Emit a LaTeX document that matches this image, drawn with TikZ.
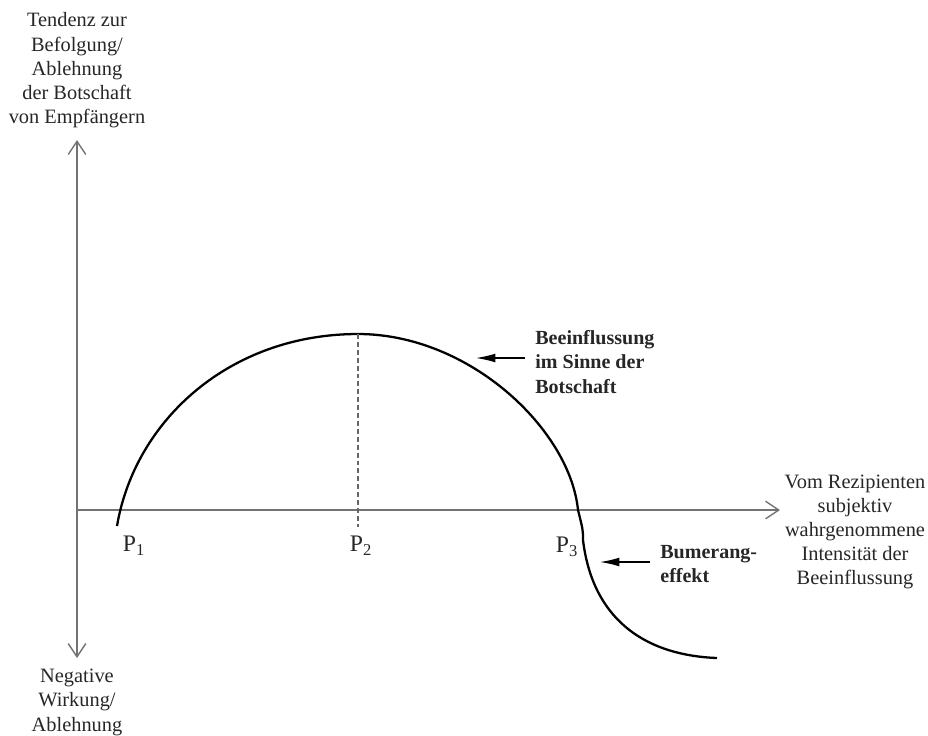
\documentclass[tikz,border=0pt]{standalone}
\usepackage{fontspec}
\setmainfont{Liberation Serif}
\usetikzlibrary{arrows.meta,positioning}

\begin{document}
\begin{tikzpicture}[x=0.02cm,y=-0.02cm,
  axis/.style={draw=black!55,line width=0.8pt,-{Straight Barb[length=7.5pt,width=10pt]}},
  curve/.style={line width=1.3pt},
  drop/.style={draw=black!60,line width=0.7pt,dash pattern=on 2.8pt off 1.7pt},
  pointer/.style={line width=0.7pt,-{Latex[length=11pt,width=5pt]}},
  axistext/.style={align=center,inner sep=0pt,text=black!85,font=\fontsize{11.6}{13.7}\selectfont},
  point/.style={inner sep=0pt,text=black!85,font=\fontsize{13.5}{15}\selectfont},
  remark/.style={align=left,inner xsep=0.2cm,inner ysep=0pt,text=black!85,font=\fontsize{11.4}{13.7}\selectfont\bfseries}]
  \useasboundingbox (0,0) rectangle (928,735);

  % Achsen
  \coordinate (O) at (77,510);
  \coordinate (ytop) at (77,140);
  \coordinate (ybot) at (77,658);
  \coordinate (xend) at (780,510);
  \draw[axis] (O) -- (ytop);
  \draw[axis] (O) -- (ybot);
  \draw[axis] (O) -- (xend);

  % Achsenbeschriftungen
  \node[axistext,anchor=south] (ylab) at (77,128) {Tendenz zur\\Befolgung/\\Ablehnung\\der Botschaft\\von Empfängern};
  \node[axistext,anchor=north] (yneg) at (77,669) {Negative\\Wirkung/\\Ablehnung};
  \node[axistext] (xlab) at (855,532) {Vom Rezipienten\\subjektiv\\wahrgenommene\\Intensität der\\Beeinflussung};

  % Wirkungskurve
  \coordinate (peak) at (358,334);
  \draw[curve] (117,526) .. controls (135,420) and (230,334) .. (peak)
    .. controls (470,334) and (570,430) .. (578,510)
    .. controls (583,530) .. (583,540)
    .. controls (592,615) and (640,655) .. (717,658);

  % Maximum bei P2
  \coordinate (foot) at (358,527);
  \draw[drop] (peak) -- (foot);

  % Punkte
  \node[point] (p1) at (134,546) {P\textsubscript{1}};
  \node[point] (p2) at (361,546) {P\textsubscript{2}};
  \node[point] (p3) at (567,547) {P\textsubscript{3}};

  % Hinweise
  \node[remark,anchor=west] (beein) at (525,362) {Beeinflussung\\im Sinne der\\Botschaft};
  \node[remark,anchor=west] (bumer) at (650,564) {Bumerang-\\effekt};
  \coordinate (tipA) at (476,358);
  \coordinate (tipB) at (600,562);
  \draw[pointer] (beein.west |- tipA) -- (tipA);
  \draw[pointer] (bumer.west |- tipB) -- (tipB);
\end{tikzpicture}
\end{document}
